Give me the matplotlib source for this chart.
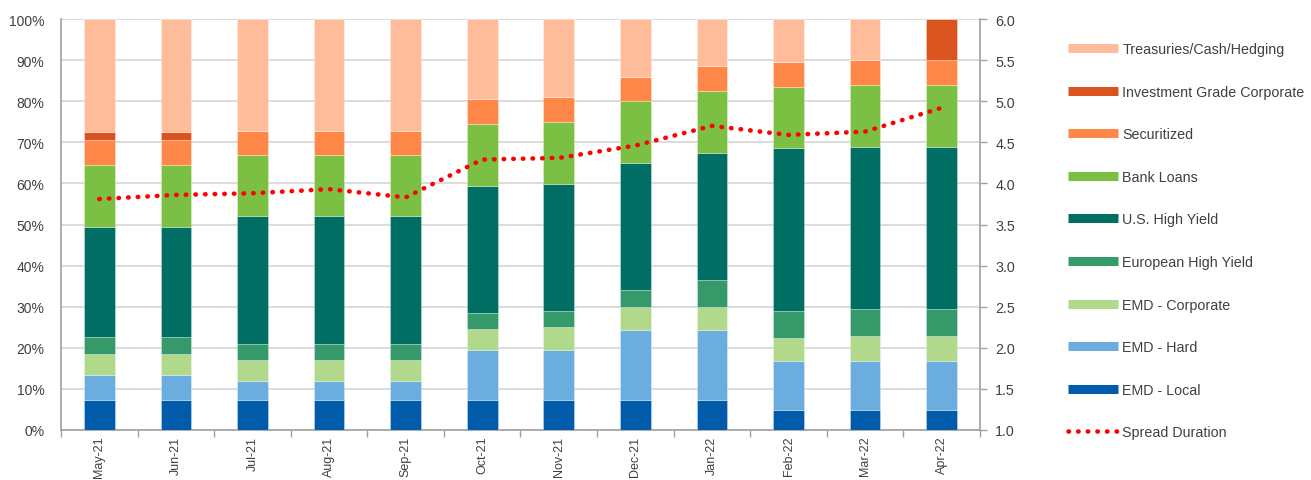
import matplotlib
matplotlib.use("Agg")
import matplotlib.pyplot as plt
from matplotlib.lines import Line2D
from matplotlib.ticker import FuncFormatter, MultipleLocator

plt.rcParams['font.family'] = ['Liberation Sans', 'DejaVu Sans']

months = ["May-21", "Jun-21", "Jul-21", "Aug-21", "Sep-21", "Oct-21",
          "Nov-21", "Dec-21", "Jan-22", "Feb-22", "Mar-22", "Apr-22"]

emd_local = [7.3, 7.3, 7.3, 7.3, 7.3, 7.3, 7.3, 7.3, 7.3, 4.9, 4.9, 4.9]
emd_hard = [6.1, 6.1, 4.7, 4.7, 4.7, 12.2, 12.2, 17.1, 17.1, 12.0, 12.0, 12.0]
emd_corp = [5.1, 5.1, 5.0, 5.0, 5.0, 5.0, 5.5, 5.6, 5.6, 5.5, 6.0, 6.0]
euro_hy = [4.1, 4.1, 4.0, 4.0, 4.0, 4.0, 3.9, 4.1, 6.5, 6.5, 6.5, 6.5]
us_hy = [26.9, 26.9, 31.0, 31.0, 31.0, 30.9, 31.0, 30.8, 31.0, 39.6, 39.5, 39.5]
bank_loans = [15.0, 15.0, 14.9, 14.9, 14.9, 15.1, 15.1, 15.1, 15.0, 15.0, 15.1, 15.1]
securitized = [6.0, 6.0, 5.9, 5.9, 5.9, 6.0, 6.0, 5.9, 6.0, 6.1, 6.0, 6.0]
ig_corp = [1.9, 1.9, 0, 0, 0, 0, 0, 0, 0, 0, 0, 10.0]
treasuries = [27.6, 27.6, 27.2, 27.2, 27.2, 19.5, 19.0, 14.1, 11.5, 10.4, 10.0, 0.0]

spread_duration = [3.81, 3.86, 3.88, 3.93, 3.83, 4.29, 4.31, 4.46, 4.70, 4.59, 4.63, 4.92]

series = [
    ("EMD - Local", emd_local, "#005BAA"),
    ("EMD - Hard", emd_hard, "#6AADDE"),
    ("EMD - Corporate", emd_corp, "#B0D98C"),
    ("European High Yield", euro_hy, "#35996A"),
    ("U.S. High Yield", us_hy, "#006E63"),
    ("Bank Loans", bank_loans, "#7BC043"),
    ("Securitized", securitized, "#FF8748"),
    ("Investment Grade Corporate", ig_corp, "#D9541E"),
    ("Treasuries/Cash/Hedging", treasuries, "#FFBC9A"),
]

fig = plt.figure(figsize=(13.11, 4.81), dpi=100)
ax = fig.add_axes([61 / 1311, 1 - 431 / 481, (980 - 61) / 1311, (431 - 20) / 481])

x = list(range(len(months)))
bottom = [0.0] * len(months)
for name, vals, col in series:
    ax.bar(x, vals, width=0.4, bottom=bottom, color=col, edgecolor=(1, 1, 1, 0.35),
           linewidth=0.6, zorder=3)
    bottom = [b + v for b, v in zip(bottom, vals)]

ax.set_ylim(0, 100)
ax.set_xlim(-0.5, len(months) - 0.5)
ax.yaxis.set_major_locator(MultipleLocator(10))
ax.yaxis.set_major_formatter(FuncFormatter(lambda v, p: f"{int(round(v))}%"))
ax.grid(axis='y', color='#D9D9D9', linewidth=1.3, zorder=0)
ax.set_axisbelow(True)

ax.set_xticks(x)
ax.set_xticklabels(months, rotation=90, fontsize=9, color='#404040')
ax.set_xticks([i + 0.5 for i in range(-1, len(months))], minor=True)
ax.tick_params(axis='x', which='major', length=0, pad=4)
ax.tick_params(axis='x', which='minor', length=5, color='#A0A0A0', width=1)
ax.tick_params(axis='y', length=0, labelsize=10, labelcolor='#404040', pad=12)

for s in ['top', 'right']:
    ax.spines[s].set_visible(False)
for s in ['left', 'bottom']:
    ax.spines[s].set_color('#A0A0A0')
    ax.spines[s].set_linewidth(1.2)

ax2 = ax.twinx()
ax2.plot(x, spread_duration, color='#FF0000', linewidth=3.3,
         linestyle=(0, (0.1, 2.0)), dash_capstyle='round', zorder=5)
ax2.set_ylim(1.0, 6.0)
ax2.yaxis.set_major_locator(MultipleLocator(0.5))
ax2.yaxis.set_major_formatter(FuncFormatter(lambda v, p: f"{v:.1f}"))
ax2.tick_params(axis='y', length=5, color='#A0A0A0', width=1, labelsize=10.3,
                labelcolor='#404040', pad=6)
for s in ['top', 'left', 'bottom']:
    ax2.spines[s].set_visible(False)
ax2.spines['right'].set_color('#A0A0A0')
ax2.spines['right'].set_linewidth(1.2)

handles = []
for name, vals, col in reversed(series):
    handles.append(Line2D([0], [0], color=col, linewidth=6.5, solid_capstyle='butt', label=name))
handles.append(Line2D([0], [0], color='#FF0000', linewidth=3.3, linestyle=(0, (0.1, 2.0)),
                      dash_capstyle='round', label="Spread Duration"))

fig.legend(handles=handles, loc='upper left', bbox_to_anchor=(1068 / 1311, 1 - 43 / 481),
           frameon=False, fontsize=10.3, labelcolor='#404040', handlelength=3.5,
           handletextpad=0.3, labelspacing=2.0, borderpad=0, borderaxespad=0)

fig.savefig("out.png", dpi=100)
